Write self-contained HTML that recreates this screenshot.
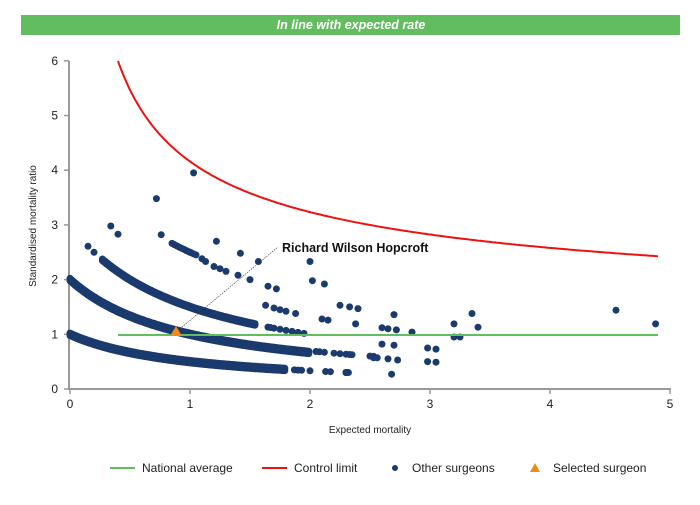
<!DOCTYPE html>
<html><head><meta charset="utf-8"><style>
body{margin:0;background:#fff;width:700px;height:500px;overflow:hidden;font-family:"Liberation Sans",sans-serif}
</style></head><body>
<svg id="s" width="700" height="500" xmlns="http://www.w3.org/2000/svg" font-family="Liberation Sans, sans-serif">
<rect x="21" y="15" width="659" height="20" fill="#62bd5f"/>
<text x="351" y="29" text-anchor="middle" fill="#fff" font-size="12.5" font-weight="bold" font-style="italic">In line with expected rate</text>
<g stroke="#999" stroke-width="2" fill="none">
<line x1="69" y1="61" x2="69" y2="390"/><line x1="68" y1="389" x2="671" y2="389"/>
</g>
<g id="ticks" stroke="#999" stroke-width="1.5"></g>
<g id="lbl" font-size="12" fill="#222"></g>
<text x="370" y="433" font-size="10" text-anchor="middle" fill="#222">Expected mortality</text>
<text transform="translate(36,226) rotate(-90)" font-size="10" text-anchor="middle" fill="#222">Standardised mortality ratio</text>
<g id="pts" fill="#1b3a6e"></g>
<line x1="118" y1="335" x2="658" y2="335" stroke="#62bd5f" stroke-width="2"/>
<path id="cl" fill="none" stroke="#ee1111" stroke-width="2"/>
<line x1="176" y1="332" x2="278" y2="247" stroke="#333" stroke-width="0.6" stroke-dasharray="1.5,1"/>
<polygon points="176,326 170,336 182,336" fill="#f08a1c"/>
<text x="282" y="252" font-size="12.5" font-weight="bold" fill="#111">Richard Wilson Hopcroft</text>
<g font-size="12" fill="#222">
<line x1="110" y1="468" x2="135" y2="468" stroke="#62bd5f" stroke-width="2"/><text x="142" y="472">National average</text>
<line x1="262" y1="468" x2="287" y2="468" stroke="#ee1111" stroke-width="2"/><text x="294" y="472">Control limit</text>
<circle cx="395" cy="468" r="3" fill="#1b3a6e"/><text x="412" y="472">Other surgeons</text>
<polygon points="535,463 530,472 540,472" fill="#f08a1c"/><text x="553" y="472">Selected surgeon</text>
</g>
</svg>
<script>
var NS="http://www.w3.org/2000/svg";
function X(e){return 70+120*e}function Y(v){return 389-54.7*v}
var t=document.getElementById('ticks'),l=document.getElementById('lbl'),p=document.getElementById('pts');
function el(par,n,a,txt){var e=document.createElementNS(NS,n);for(var k in a)e.setAttribute(k,a[k]);if(txt!=null)e.textContent=txt;par.appendChild(e);}
for(var i=0;i<=6;i++){el(t,'line',{x1:64,x2:69,y1:Y(i),y2:Y(i)});el(l,'text',{x:58,y:Y(i)+4,'text-anchor':'end'},i);}
for(var i=0;i<=5;i++){el(t,'line',{x1:X(i),x2:X(i),y1:389,y2:394});el(l,'text',{x:X(i),y:408,'text-anchor':'middle'},i);}
function c(e,v,d){el(p,'circle',{cx:X(e).toFixed(1),cy:(Y(v)+(d||0)).toFixed(1),r:3.5});}
for(var e=0;e<=1.8;e+=0.01){c(e,1/(1+e),-1.2);c(e,1/(1+e),1.2);}
[1.87,1.9,1.93,2.0,2.13,2.17,2.3,2.32].forEach(function(e){c(e,1/(1+e));});
for(var e=0;e<=2.0;e+=0.01){c(e,2/(1+e),-1.2);c(e,2/(1+e),1.2);}
[2.05,2.08,2.12,2.2,2.25,2.3,2.33,2.35,2.5,2.53].forEach(function(e){c(e,2/(1+e)+0.03);});
for(var e=0.27;e<=1.55;e+=0.012){c(e,3/(1+e),-0.8);c(e,3/(1+e),0.8);}
[0.15,0.2,0.54,0.56,1.65,1.67,1.7,1.75,1.8,1.85,1.9,1.95].forEach(function(e){c(e,3/(1+e));});
for(var e=0.85;e<=1.05;e+=0.02)c(e,4/(1+e)+0.5);
var sc=[[0.34,2.98],[0.4,2.83],[0.76,2.82],[0.72,3.48],[1.03,3.95],[1.0,2.5],[1.1,2.38],[1.13,2.33],[1.22,2.7],[1.2,2.24],[1.25,2.2],[1.3,2.15],[1.4,2.08],[1.42,2.48],[1.5,2.0],[1.57,2.33],[1.65,1.88],[1.72,1.83],[1.63,1.53],[1.7,1.48],[1.75,1.45],[1.8,1.42],[1.88,1.38],[2.0,2.33],[2.02,1.98],[2.12,1.92],[2.1,1.28],[2.15,1.26],[2.25,1.53],[2.33,1.5],[2.4,1.47],[2.38,1.19],[2.6,1.12],[2.65,1.1],[2.7,1.36],[2.72,1.08],[2.85,1.04],[2.6,0.82],[2.7,0.8],[2.65,0.55],[2.73,0.53],[2.68,0.27],[2.98,0.75],[3.05,0.73],[2.98,0.5],[3.05,0.49],[3.2,1.19],[3.2,0.95],[3.25,0.95],[3.35,1.38],[3.4,1.13],[4.55,1.44],[4.88,1.19],[2.3,0.3],[2.53,0.57],[2.56,0.57]];
sc.forEach(function(a){c(a[0],a[1]);});
var d="";for(var e=0.4;e<=4.9;e+=0.02){d+=(d?"L":"M")+X(e).toFixed(1)+","+Y(1+3.16/Math.sqrt(e)).toFixed(1);}
document.getElementById('cl').setAttribute('d',d);
</script>
</body></html>
